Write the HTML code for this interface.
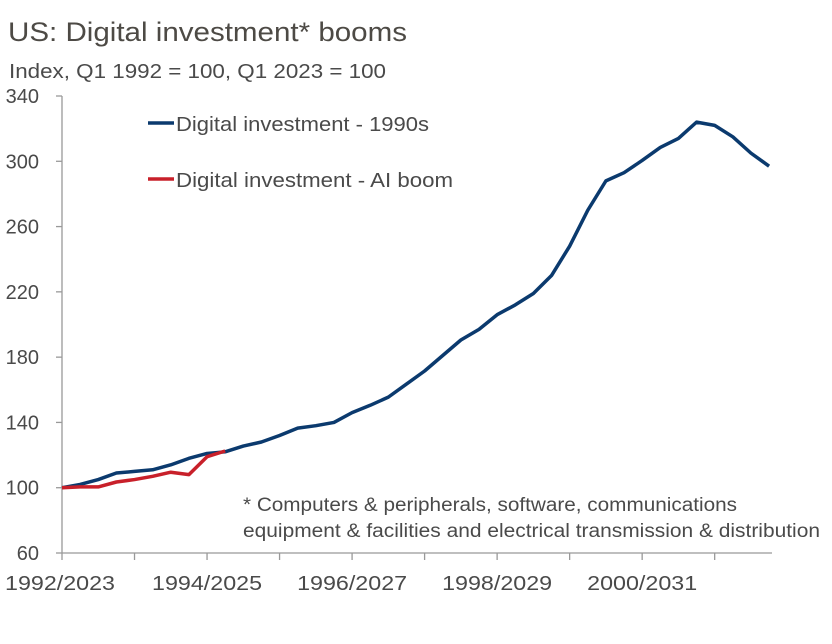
<!DOCTYPE html>
<html><head><meta charset="utf-8"><style>
body{margin:0;background:#fff;}
svg{display:block;font-family:"Liberation Sans",sans-serif;}
</style></head><body>
<svg id="c" width="832" height="644">
<text x="8" y="41" font-size="27" fill="#4d4a45" textLength="399" lengthAdjust="spacingAndGlyphs">US: Digital investment* booms</text>
<text x="9" y="78" font-size="20" fill="#4a4a4a" textLength="377" lengthAdjust="spacingAndGlyphs">Index, Q1 1992 = 100, Q1 2023 = 100</text>
<g id="axes"></g>
<g id="lines"></g>
<g>
<line x1="148" y1="123" x2="174" y2="123" stroke="#0b3a6e" stroke-width="3.5"/>
<text x="176" y="131" font-size="20.5" fill="#4a4a4a" textLength="253" lengthAdjust="spacingAndGlyphs">Digital investment - 1990s</text>
<line x1="148" y1="179" x2="174" y2="179" stroke="#c8202a" stroke-width="3.5"/>
<text x="176" y="187" font-size="20.5" fill="#4a4a4a" textLength="277" lengthAdjust="spacingAndGlyphs">Digital investment - AI boom</text>
</g>
<text x="243" y="511" font-size="19" fill="#4a4a4a" textLength="494" lengthAdjust="spacingAndGlyphs">* Computers &amp; peripherals, software, communications</text>
<text x="243" y="537" font-size="19" fill="#4a4a4a" textLength="577" lengthAdjust="spacingAndGlyphs">equipment &amp; facilities and electrical transmission &amp; distribution</text>
</svg>
<script>
const yTicks=[60,100,140,180,220,260,300,340];
const xTickLabels=["1992/2023","1994/2025","1996/2027","1998/2029","2000/2031"];
const series1990s=[100,102,105,109,110,111,114,118,121,122,125.5,128,132,136.5,138,140,146,150.5,155.5,163.5,171.5,181,190.5,197,206,212,219,230,248,270,288,293,300.5,308.5,314,324,322,315,305,297];
const seriesAI=[100,100.5,100.5,103.5,105,107,109.5,108,119,122.5];
const NS="http://www.w3.org/2000/svg";
const x0=62,dx=18.13,yBase=553,yTop=96;
const X=i=>x0+i*dx;
const Y=v=>yBase-(v-60)/(340-60)*(yBase-yTop);
const axes=document.getElementById('axes'),lines=document.getElementById('lines');
function mk(t,a,p){const e=document.createElementNS(NS,t);for(const k in a)e.setAttribute(k,a[k]);p.appendChild(e);return e;}
let e=mk('line',{x1:x0,y1:yTop,x2:x0,y2:yBase,stroke:'#999','stroke-width':1.3},axes);


e=mk('line',{x1:x0,y1:yBase,x2:772,y2:yBase,stroke:'#999','stroke-width':1.3},axes);


yTicks.forEach(v=>{
 const t=mk('line',{x1:x0-6,y1:Y(v),x2:x0,y2:Y(v),stroke:'#999','stroke-width':1.3},axes);
 
 
 const l=mk('text',{x:39,y:Y(v)+7,'font-size':20,fill:'#4a4a4a','text-anchor':'end'},axes);
 l.textContent=v;
 
 
});
for(let i=0;i<=9;i++){
 const t=mk('line',{x1:X(i*4),y1:yBase,x2:X(i*4),y2:yBase+7,stroke:'#999','stroke-width':1.3},axes);
 
 
}
xTickLabels.forEach((s,i)=>{
 const l=mk('text',{x:X(i*8)+0,y:590,'font-size':20,fill:'#4a4a4a','text-anchor':i==0?'start':'middle',textLength:110,lengthAdjust:'spacingAndGlyphs'},axes);
 if(i==0)l.setAttribute('x',5);
 l.textContent=s;
 
 
});
function line(d,c,n){
 const p=mk('polyline',{points:d.map((v,i)=>X(i)+','+Y(v)).join(' '),fill:'none',stroke:c,'stroke-width':3.5,'stroke-linejoin':'round'},lines);
 
 
}
line(series1990s,'#0b3a6e','line-1990s');
line(seriesAI,'#c8202a','line-ai-boom');
</script>
</body></html>
